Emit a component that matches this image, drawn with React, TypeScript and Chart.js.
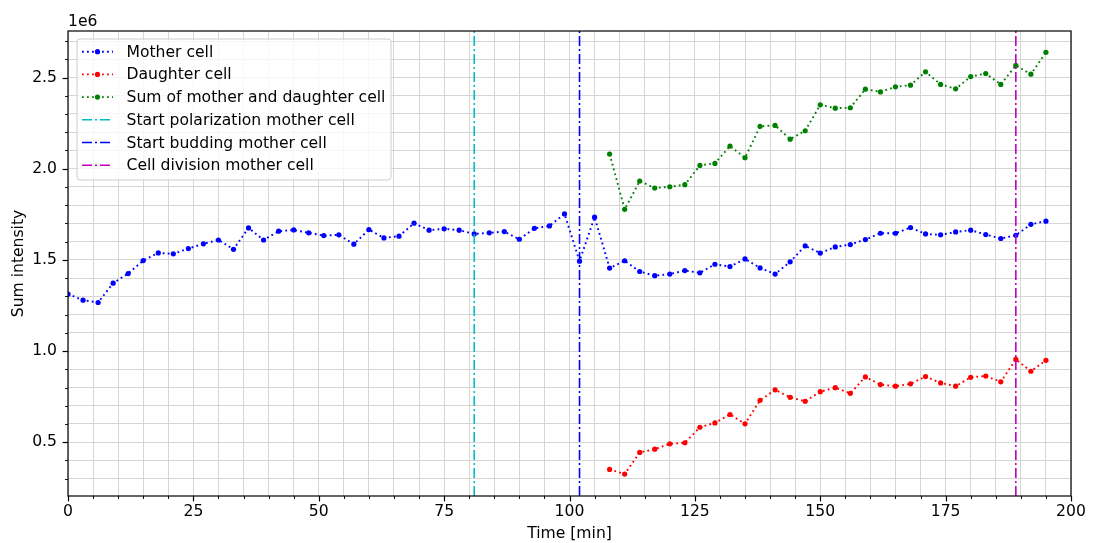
import React, { useEffect, useRef } from "react";
import { Chart, registerables } from "chart.js";
Chart.register(...registerables);

// ---------- data ----------
const motherTime = [
  0, 3, 6, 9, 12, 15, 18, 21, 24, 27, 30, 33, 36, 39, 42, 45, 48, 51, 54, 57, 60, 63,
  66, 69, 72, 75, 78, 81, 84, 87, 90, 93, 96, 99, 102, 105, 108, 111, 114, 117, 120,
  123, 126, 129, 132, 135, 138, 141, 144, 147, 150, 153, 156, 159, 162, 165, 168, 171,
  174, 177, 180, 183, 186, 189, 192, 195,
];
const motherValues = [
  1.312, 1.279, 1.266, 1.372, 1.425, 1.496, 1.538, 1.533, 1.562, 1.588, 1.609, 1.558,
  1.675, 1.609, 1.657, 1.664, 1.648, 1.633, 1.637, 1.586, 1.666, 1.62, 1.63, 1.701,
  1.663, 1.67, 1.663, 1.642, 1.648, 1.655, 1.613, 1.673, 1.686, 1.752, 1.493, 1.734,
  1.455, 1.495, 1.436, 1.413, 1.422, 1.441, 1.429, 1.476, 1.463, 1.505, 1.456, 1.422,
  1.489, 1.577, 1.537, 1.571, 1.584, 1.611, 1.646, 1.646, 1.677, 1.642, 1.637, 1.653,
  1.663, 1.639, 1.617, 1.635, 1.695, 1.712,
];
const daughterTime = [
  108, 111, 114, 117, 120, 123, 126, 129, 132, 135, 138, 141, 144, 147, 150, 153, 156,
  159, 162, 165, 168, 171, 174, 177, 180, 183, 186, 189, 192, 195,
];
const daughterValues = [
  0.351, 0.325, 0.444, 0.462, 0.491, 0.497, 0.582, 0.606, 0.652, 0.601, 0.73, 0.787,
  0.746, 0.724, 0.777, 0.799, 0.768, 0.858, 0.816, 0.807, 0.82, 0.86, 0.825, 0.807,
  0.856, 0.863, 0.831, 0.954, 0.889, 0.949,
];
const sumValues = [
  2.08, 1.777, 1.932, 1.894, 1.901, 1.912, 2.018, 2.029, 2.124, 2.06, 2.232, 2.237,
  2.162, 2.208, 2.35, 2.332, 2.334, 2.436, 2.421, 2.449, 2.458, 2.531, 2.462, 2.438,
  2.505, 2.522, 2.462, 2.566, 2.518, 2.638,
];
const seriesLabels = ["Mother cell", "Daughter cell", "Sum of mother and daughter cell"];
const seriesColors = ["#0000ff", "#ff0000", "#008000"];
const eventTimes = [81, 102, 189];
const eventLabels = [
  "Start polarization mother cell",
  "Start budding mother cell",
  "Cell division mother cell",
];
const eventColors = ["#00bfbf", "#0000ff", "#bf00bf"];

const xMajorTicks = [0, 25, 50, 75, 100, 125, 150, 175, 200];
const yMajorTicks = [0.5, 1.0, 1.5, 2.0, 2.5];
const xMinorTicks = [
  0, 5, 10, 15, 20, 25, 30, 35, 40, 45, 50, 55, 60, 65, 70, 75, 80, 85, 90, 95, 100,
  105, 110, 115, 120, 125, 130, 135, 140, 145, 150, 155, 160, 165, 170, 175, 180, 185,
  190, 195, 200,
];
const yMinorTicks = [
  0.3, 0.4, 0.5, 0.6, 0.7, 0.8, 0.9, 1.0, 1.1, 1.2, 1.3, 1.4, 1.5, 1.6, 1.7, 1.8, 1.9,
  2.0, 2.1, 2.2, 2.3, 2.4, 2.5, 2.6, 2.7,
];
const xRange = [0, 200];
const yRange = [0.205, 2.755];
const offsetText = "1e6";
const xTitle = "Time [min]";
const yTitle = "Sum intensity";

// ---------- style ----------
const FAMILY = '"DejaVu Sans", sans-serif';
const FSIZE = 15.6;
const GRID = "#d6d6d6";
const DOT_DASH = [1.8, 3.2];
const DASHDOT = [10, 3, 2, 3];

const isMajor = (v: number, list: number[]) => list.some((m) => Math.abs(m - v) < 1e-6);

const decor = {
  id: "decor",
  afterDraw(chart: any) {
    const ctx = chart.ctx as CanvasRenderingContext2D;
    const { left, right, top, bottom } = chart.chartArea;
    const xs = chart.scales.x;
    const ys = chart.scales.y;
    ctx.save();
    // tick marks
    ctx.strokeStyle = "#000";
    xMinorTicks.forEach((v) => {
      const major = isMajor(v, xMajorTicks);
      const px = Math.round(xs.getPixelForValue(v)) + 0.5;
      ctx.lineWidth = major ? 1.2 : 0.9;
      ctx.beginPath();
      ctx.moveTo(px, bottom);
      ctx.lineTo(px, bottom + (major ? 5.4 : 3));
      ctx.stroke();
    });
    yMinorTicks.forEach((v) => {
      const major = isMajor(v, yMajorTicks);
      const py = Math.round(ys.getPixelForValue(v)) + 0.5;
      ctx.lineWidth = major ? 1.2 : 0.9;
      ctx.beginPath();
      ctx.moveTo(left, py);
      ctx.lineTo(left - (major ? 5.4 : 3), py);
      ctx.stroke();
    });
    // frame
    ctx.lineWidth = 1.2;
    ctx.strokeRect(left, top, right - left, bottom - top);
    // offset text
    ctx.fillStyle = "#000";
    ctx.font = `${FSIZE}px ${FAMILY}`;
    ctx.textAlign = "left";
    ctx.textBaseline = "alphabetic";
    ctx.fillText(offsetText, left, top - 5);
    // legend
    const bx = 77, by = 39, bw = 314, bh = 141, r = 3;
    ctx.beginPath();
    ctx.moveTo(bx + r, by);
    ctx.lineTo(bx + bw - r, by);
    ctx.quadraticCurveTo(bx + bw, by, bx + bw, by + r);
    ctx.lineTo(bx + bw, by + bh - r);
    ctx.quadraticCurveTo(bx + bw, by + bh, bx + bw - r, by + bh);
    ctx.lineTo(bx + r, by + bh);
    ctx.quadraticCurveTo(bx, by + bh, bx, by + bh - r);
    ctx.lineTo(bx, by + r);
    ctx.quadraticCurveTo(bx, by, bx + r, by);
    ctx.closePath();
    ctx.fillStyle = "rgba(255,255,255,0.8)";
    ctx.fill();
    ctx.strokeStyle = "#cccccc";
    ctx.lineWidth = 1;
    ctx.stroke();
    const items = chart.data.datasets.slice().sort((a: any, b: any) => a.legendIndex - b.legendIndex);
    items.forEach((ds: any, i: number) => {
      const cy = 51.7 + i * 22.7;
      ctx.strokeStyle = ds.borderColor;
      ctx.lineWidth = ds.borderWidth;
      ctx.setLineDash(ds.borderDash || []);
      ctx.beginPath();
      ctx.moveTo(82, cy);
      ctx.lineTo(113, cy);
      ctx.stroke();
      ctx.setLineDash([]);
      if (ds.pointRadius > 0) {
        ctx.fillStyle = ds.borderColor;
        ctx.beginPath();
        ctx.arc(97.5, cy, ds.pointRadius, 0, Math.PI * 2);
        ctx.fill();
      }
      ctx.fillStyle = "#000";
      ctx.textBaseline = "middle";
      ctx.fillText(ds.label, 126.5, cy + 1);
    });
    ctx.restore();
  },
};

export default function App() {
  const ref = useRef<HTMLCanvasElement | null>(null);
  useEffect(() => {
    if (!ref.current) return;
    const font = { family: FAMILY, size: FSIZE };
    const series = [
      { t: motherTime, v: motherValues },
      { t: daughterTime, v: daughterValues },
      { t: daughterTime, v: sumValues },
    ].map((s, i) => ({
      label: seriesLabels[i],
      legendIndex: i,
      data: s.t.map((t, k) => ({ x: t, y: s.v[k] })),
      borderColor: seriesColors[i],
      backgroundColor: seriesColors[i],
      pointBackgroundColor: seriesColors[i],
      borderWidth: 1.9,
      borderDash: DOT_DASH,
      pointRadius: 2.6,
      pointBorderWidth: 0,
      pointHoverRadius: 2.6,
      tension: 0,
      order: 2,
    }));
    const events = eventTimes.map((t, i) => ({
      label: eventLabels[i],
      legendIndex: 3 + i,
      data: [
        { x: t, y: yRange[0] },
        { x: t, y: yRange[1] },
      ],
      borderColor: eventColors[i],
      backgroundColor: eventColors[i],
      borderWidth: 1.6,
      borderDash: DASHDOT,
      pointRadius: 0,
      tension: 0,
      order: 1,
    }));
    const chart = new Chart(ref.current, {
      type: "line",
      data: { datasets: [...series, ...events] as any },
      options: {
        responsive: false,
        animation: false,
        devicePixelRatio: 1,
        layout: { padding: { left: 0, right: 22, top: 31, bottom: 0 } },
        plugins: { legend: { display: false }, tooltip: { enabled: false } },
        scales: {
          x: {
            type: "linear",
            min: xRange[0],
            max: xRange[1],
            afterBuildTicks: (s: any) => {
              s.ticks = xMinorTicks.map((v) => ({ value: v }));
            },
            afterFit: (s: any) => {
              s.height = 47;
            },
            ticks: {
              autoSkip: false,
              maxRotation: 0,
              minRotation: 0,
              padding: 7,
              color: "#000",
              font,
              callback: (v: any) => (isMajor(Number(v), xMajorTicks) ? String(Math.round(Number(v))) : ""),
            },
            grid: { drawTicks: false, color: GRID, lineWidth: 1 },
            border: { display: false },
            title: { display: true, text: xTitle, color: "#000", font, padding: { top: 0, bottom: 0 } },
          },
          y: {
            type: "linear",
            min: yRange[0],
            max: yRange[1],
            afterBuildTicks: (s: any) => {
              s.ticks = yMinorTicks.map((v) => ({ value: v }));
            },
            afterFit: (s: any) => {
              s.width = 68;
            },
            ticks: {
              autoSkip: false,
              padding: 11,
              color: "#000",
              font,
              callback: (v: any) => (isMajor(Number(v), yMajorTicks) ? Number(v).toFixed(1) : ""),
            },
            grid: { drawTicks: false, color: GRID, lineWidth: 1 },
            border: { display: false },
            title: { display: true, text: yTitle, color: "#000", font, padding: { top: 10, bottom: 0 } },
          },
        },
      },
      plugins: [decor],
    });
    return () => chart.destroy();
  }, []);
  return (
    <div style={{ position: "fixed", left: 0, top: 0, width: 1093, height: 543, background: "#fff" }}>
      <canvas ref={ref} width={1093} height={543} style={{ display: "block" }} />
    </div>
  );
}
